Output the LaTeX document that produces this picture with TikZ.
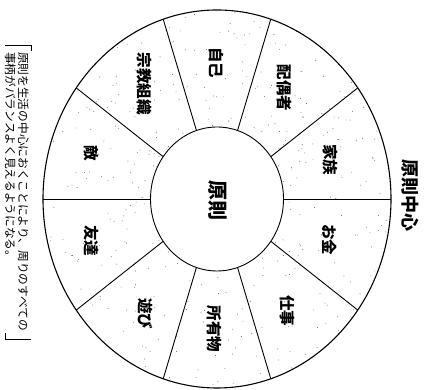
\documentclass[tikz,border=0pt]{standalone}
\usepackage{fontspec}
\newfontfamily\jp{Noto Sans CJK JP}
\begin{document}
\begin{tikzpicture}[x=1pt,y=1pt,
  lab/.style={font=\jp\bfseries\fontsize{15.5}{15.5}\selectfont, rotate=-90, inner sep=0pt},
  ring/.style={line width=1.1pt},
  divider/.style={line width=0.9pt},
  bracket/.style={line width=0.8pt}]
\useasboundingbox (0,0) rectangle (437,390);
\coordinate (c) at (217,191);
% screen-tone dots in the ring
\begin{scope}
  \clip (c) ellipse [x radius=174pt, y radius=189pt];
  \pgfmathsetseed{7}
  \foreach \i in {1,...,520} {
    \pgfmathsetmacro\dx{217+rand*174}
    \pgfmathsetmacro\dy{191+rand*189}
    \fill[black!65] (\dx,\dy) circle (0.45pt);
  }
\end{scope}
\fill[white] (c) ellipse [x radius=66.5pt, y radius=72pt];
% circles
\draw[ring] (c) ellipse [x radius=174pt, y radius=189pt];
\draw[divider] (c) ellipse [x radius=66.5pt, y radius=72pt];
% dividers
\foreach \a in {0,36,...,324} {
  \draw[divider] ({217+66.5*cos(\a)},{191+72*sin(\a)}) -- ({217+174*cos(\a)},{191+189*sin(\a)});
}
% labels
\node[lab] (kazoku) at (330,230) {家族};
\node[lab] (haiguusha) at (284,302) {配偶者};
\node[lab] (jiko) at (216,327) {自己};
\node[lab] (shuukyou) at (144,306) {宗教組織};
\node[lab] (teki) at (91,237) {敵};
\node[lab] (tomodachi) at (91,149) {友達};
\node[lab] (asobi) at (145,76) {遊び};
\node[lab] (shoyuubutsu) at (214,61) {所有物};
\node[lab] (shigoto) at (287,79) {仕事};
\node[lab] (okane) at (330,150) {お金};
\node[lab, font=\jp\bfseries\fontsize{20}{20}\selectfont] (gensoku) at (218,189) {原則};
% title
\node[lab, font=\jp\bfseries\fontsize{18}{18}\selectfont] (title) at (410,194) {原則中心};
% caption
\node[rotate=-90, anchor=north west, align=left, inner sep=0pt,
      font=\jp\fontsize{11.7}{13}\selectfont] (cap) at (29,338)
  {原則を生活の中心におくことにより、周りのすべての\\事柄がバランスよく見えるようになる。};
\draw[bracket] (5,345) -- (31,345) -- (31,339);
\draw[bracket] (5,57) -- (5,51) -- (31,51);
\end{tikzpicture}
\end{document}
